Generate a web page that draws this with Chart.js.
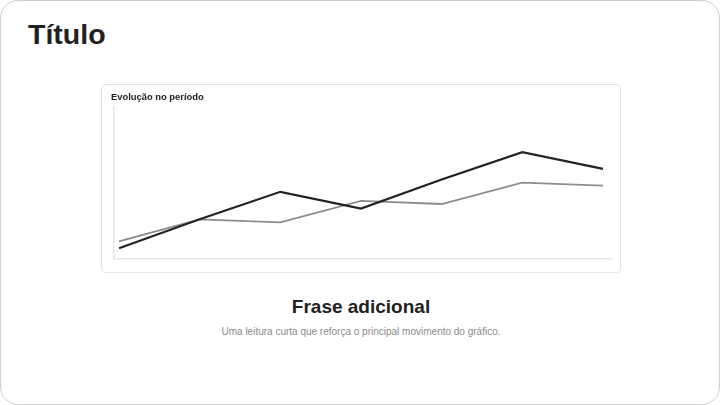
<!DOCTYPE html>
<html lang="pt">
<head>
<meta charset="utf-8">
<script src="https://cdn.jsdelivr.net/npm/chart.js@4.4.1/dist/chart.umd.min.js"></script>
<style>
  html, body { margin: 0; padding: 0; background: #fff; }
  body { width: 720px; height: 405px; overflow: hidden; font-family: "Liberation Sans", Arial, sans-serif; }
  .card {
    position: absolute; left: 0; top: 0; width: 718px; height: 403px;
    border: 1px solid #cfcfcf; border-radius: 18px; background: #fff;
  }
  h1 {
    position: absolute; left: 27px; top: 17px; margin: 0;
    font-size: 28.5px; font-weight: 700; color: #222;
  }
  .box {
    position: absolute; left: 100px; top: 83px; width: 518px; height: 187px;
    border: 1px solid #e3e3e3; border-radius: 4px;
  }
  .box canvas { display: block; }
  .frase {
    position: absolute; left: 0; width: 720px; top: 295px; margin: 0;
    text-align: center; font-size: 19px; font-weight: 700; color: #222;
  }
  .sub {
    position: absolute; left: 0; width: 720px; top: 325px; margin: 0;
    text-align: center; font-size: 10px; color: #8a8a8a;
  }
</style>
</head>
<body>
<div class="card">
  <h1>Título</h1>
  <div class="box"><canvas id="grafico" width="518" height="187"></canvas></div>
  <p class="frase">Frase adicional</p>
  <p class="sub">Uma leitura curta que reforça o principal movimento do gráfico.</p>
</div>
<script>
    // dados
    const categorias = [ "P1", "P2", "P3", "P4", "P5", "P6", "P7" ];
    const serieEscura = [ 7, 26, 44, 33, 52, 70, 59 ];
    const serieClara = [ 11.5, 26, 24, 38, 36, 50, 48 ];

    const pontos = serie => serie.map((v, i) => ({ x: i, y: v }));

    new Chart(document.getElementById("grafico"), {
        type: "line",
        data: {
            datasets: [ {
                label: "Série 1",
                data: pontos(serieEscura),
                borderColor: "#222222",
                borderWidth: 2.2,
                pointRadius: 0,
                tension: 0
            }, {
                label: "Série 2",
                data: pontos(serieClara),
                borderColor: "#8c8c8c",
                borderWidth: 1.8,
                pointRadius: 0,
                tension: 0
            } ]
        },
        options: {
            responsive: false,
            animation: false,
            layout: {
                padding: { left: 9, right: 9, top: 0, bottom: 13 }
            },
            plugins: {
                legend: { display: false },
                tooltip: { enabled: false },
                title: {
                    display: true,
                    text: "Evolução no período",
                    align: "start",
                    color: "#222",
                    font: { family: "'Liberation Sans', Arial, sans-serif", weight: "700", size: 9.4 },
                    padding: { top: 7, bottom: 3 }
                }
            },
            scales: {
                x: {
                    type: "linear",
                    min: -0.062,
                    max: 6.099,
                    ticks: { display: false, callback: (v) => categorias[v] },
                    grid: { display: false },
                    border: { color: "#e6e6e6", width: 1.5 },
                    afterFit: (axis) => { axis.height = 0; }
                },
                y: {
                    min: 0,
                    max: 100,
                    ticks: { display: false },
                    grid: { display: false },
                    border: { color: "#e6e6e6", width: 1.5 },
                    afterFit: (axis) => { axis.width = 3; }
                }
            }
        }
    });
</script>
</body>
</html>
